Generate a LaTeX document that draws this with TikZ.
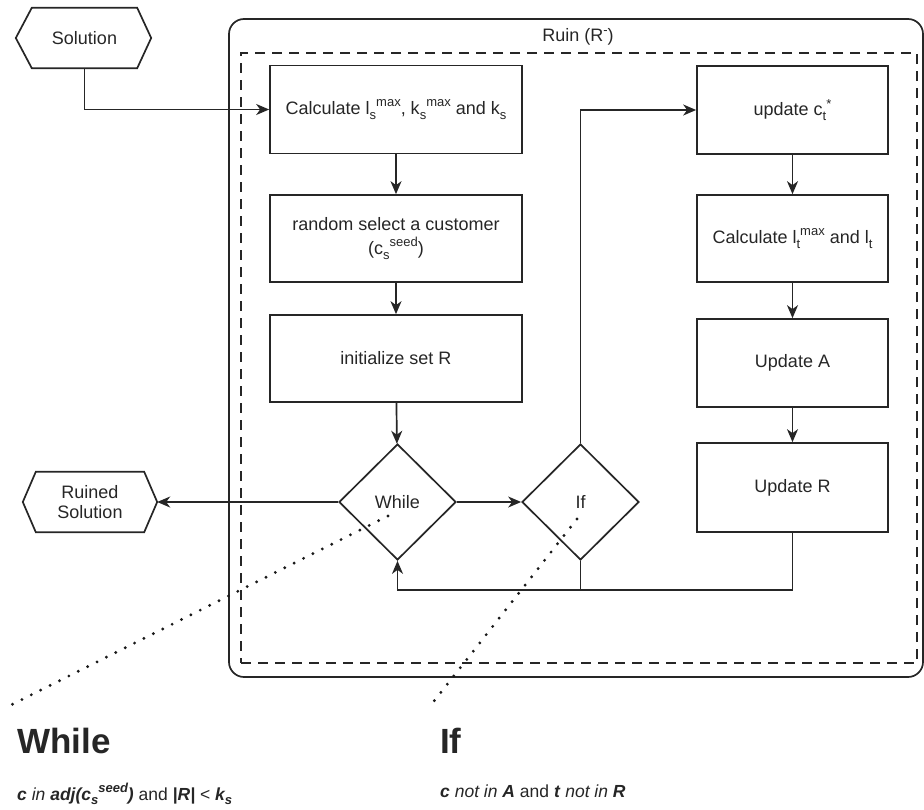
\documentclass[tikz,border=0pt]{standalone}
\usepackage{fontspec}
\setmainfont{Liberation Sans}
\usetikzlibrary{arrows.meta,shapes.geometric}

% index helpers: subscript and superscript set one after another
\newcommand\dnidx[1]{\raisebox{-0.28em}{\fontsize{13}{14}\selectfont #1}}
\newcommand\upidx[1]{\raisebox{0.42em}{\fontsize{13}{14}\selectfont #1}}

\begin{document}
\begin{tikzpicture}[x=1pt,y=-1pt,
  every node/.style={font=\fontsize{18}{21}\selectfont, text=black!85},
  line/.style={draw=black!85, line width=1.7pt},
  arrow/.style={line, -{Stealth[length=13pt,width=11pt,inset=4pt]}},
  procbox/.style={line, rectangle, minimum width=252pt, minimum height=88pt, inner sep=2pt, align=center},
  rbox/.style={procbox, minimum width=191pt},
  decision/.style={line, diamond, minimum width=117pt, minimum height=116pt, inner sep=0pt},
  hexnode/.style={rectangle, minimum height=60pt, inner sep=0pt, align=center},
  hexline/.style={line},
  dotline/.style={draw=black!90, line width=3.2pt, line cap=round, dash pattern=on 0pt off 10.5pt},
  bigtitle/.style={font=\fontsize{35}{40}\selectfont\bfseries, anchor=base west, inner sep=0pt},
  condtext/.style={font=\fontsize{17.5}{20}\selectfont, anchor=base west, inner sep=0pt},
]
\useasboundingbox (0,0) rectangle (924,809);

% outer ruin frame and inner dashed region
\node[line, rounded corners=15pt, minimum width=694pt, minimum height=658pt] (ruin) at (576,348) {};
\node[draw=black!85, line width=1.7pt, dash pattern=on 10pt off 7pt, minimum width=676pt, minimum height=610pt] (inner) at (579,358) {};
\node (ruinlbl) at (578,37) {Ruin (R\upidx{-})};

% input / output hexagons
\node[hexnode, minimum width=105pt] (sol) at (84.5,38) {Solution};
\draw[hexline] (sol.north west) -- (sol.north east) -- ([xshift=14pt]sol.east) -- (sol.south east)
  -- (sol.south west) -- ([xshift=-16pt]sol.west) -- cycle;
\node[hexnode, minimum width=108pt] (rsol) at (90,502) {Ruined\\[-1pt]Solution};
\draw[hexline] (rsol.north west) -- (rsol.north east) -- ([xshift=13pt]rsol.east) -- (rsol.south east)
  -- (rsol.south west) -- ([xshift=-13pt]rsol.west) -- cycle;
\coordinate (rsoltip) at ([xshift=13pt]rsol.east);

% left column
\node[procbox] (calc) at (396,109.5) {Calculate l\dnidx{s}\upidx{max}, k\dnidx{s}\upidx{max} and k\dnidx{s}};
\node[procbox, minimum height=87pt] (rand) at (396,238.5) {random select a customer\\[3pt](c\dnidx{s}\upidx{seed})};
\node[procbox, minimum height=87pt] (init) at (396,358.5) {initialize set R};
\node[decision] (while) at (397.5,502) {While};
\node[decision] (iff) at (580.5,502) {If};

% right column
\node[rbox] (updc) at (792.5,110) {update c\dnidx{t}\upidx{*}};
\node[rbox, minimum height=87pt] (calct) at (792.5,238.5) {Calculate l\dnidx{t}\upidx{max} and l\dnidx{t}};
\node[rbox] (upda) at (792.5,363) {Update A};
\node[rbox, minimum height=89pt] (updr) at (792.5,487.5) {Update R};

% flow
\draw[arrow] (sol.south) |- (calc.west);
\draw[arrow] (calc) -- (rand);
\draw[arrow] (rand) -- (init);
\draw[arrow] (init) -- (while);
\draw[arrow] (while.west) -- (rsoltip);
\draw[arrow] (while.east) -- (iff.west);
\draw[arrow] (iff.north) |- (updc.west);
\draw[arrow] (updc) -- (calct);
\draw[arrow] (calct) -- (upda);
\draw[arrow] (upda) -- (updr);
\coordinate (loopr) at (792.5,590);
\coordinate (loopl) at (397.5,590);
\draw[arrow] (updr.south) -- (loopr) -- (loopl) -- (while.south);
\draw[line] (iff.south) -- (iff.south |- loopr);

% condition notes
\node[bigtitle] (whiletitle) at (17,753) {While};
\node[bigtitle] (iftitle) at (440,753) {If};
\node[condtext] (whilecond) at (17,800) {\textbf{\textit{c}} \textit{in} \textbf{\textit{adj(c\dnidx{s}\upidx{seed})}} and \textbf{\textit{|R|}} < \textbf{\textit{k\dnidx{s}}}};
\node[condtext] (ifcond) at (440,797) {\textbf{\textit{c}} \textit{not in} \textbf{\textit{A}} and \textbf{\textit{t}} \textit{not in} \textbf{\textit{R}}};
\coordinate (whiledot) at (388,516);
\coordinate (whilenote) at (11,705);
\coordinate (ifdot) at (577,519);
\coordinate (ifnote) at (431,705);
\draw[dotline] (whiledot) -- (whilenote);
\draw[dotline] (ifdot) -- (ifnote);
\end{tikzpicture}
\end{document}
